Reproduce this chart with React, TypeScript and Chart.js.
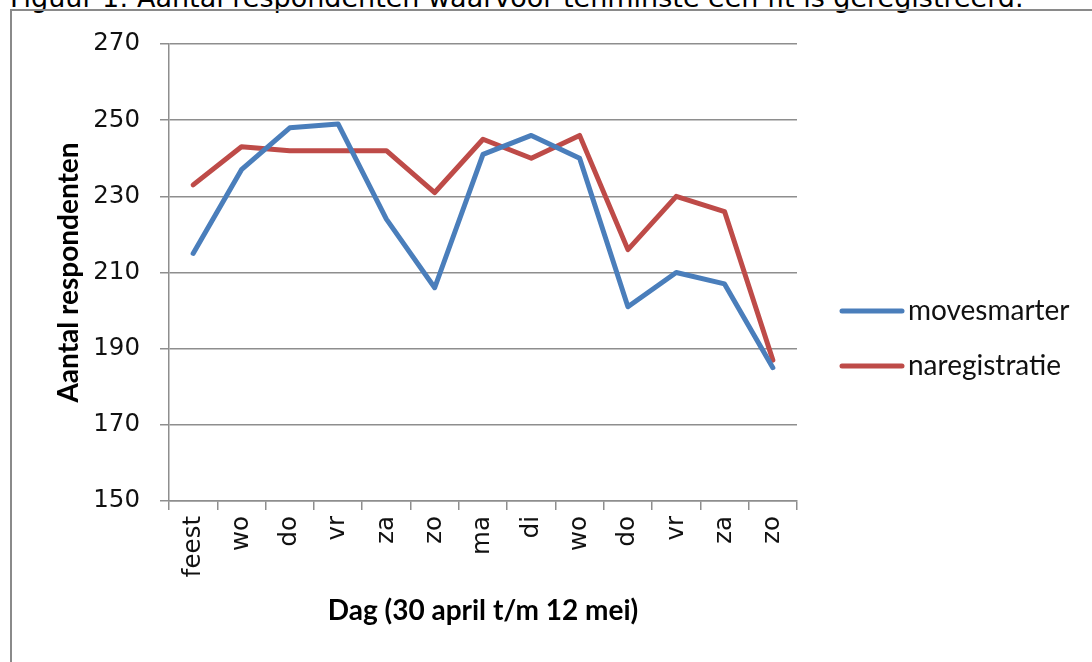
import React, { useEffect, useRef } from "react";
import { Chart, registerables } from "chart.js";

Chart.register(...registerables);

const CAPTION = "Figuur 1: Aantal respondenten waarvoor tenminste een fit is geregistreerd.";
const categories = ["feest", "wo", "do", "vr", "za", "zo", "ma", "di", "wo", "do", "vr", "za", "zo"];
const seriesNames = ["movesmarter", "naregistratie"];
const movesmarter = [215, 237, 248, 249, 224, 206, 241, 246, 240, 201, 210, 207, 185];
const naregistratie = [233, 243, 242, 242, 242, 231, 245, 240, 246, 216, 230, 226, 187];
const seriesColors = ["#4a7ebb", "#be4b48"];
const yMin = 150;
const yMax = 270;
const yStep = 20;
const xTitle = "Dag (30 april t/m 12 mei)";
const yTitle = "Aantal respondenten";

const GRID = "#8e8e8e";
const TICK_FONT = { family: "'DejaVu Sans'", size: 24.5 };

const legendPlugin = {
  id: "customLegend",
  afterDraw(chart: any) {
    const ctx = chart.ctx;
    const area = chart.chartArea;
    const x0 = area.right + 45;
    const y0 = area.top + 267;
    chart.data.datasets.forEach((ds: any, i: number) => {
      const y = y0 + i * 55;
      ctx.save();
      ctx.strokeStyle = ds.borderColor;
      ctx.lineWidth = 5;
      ctx.lineCap = "round";
      ctx.beginPath();
      ctx.moveTo(x0, y);
      ctx.lineTo(x0 + 60, y);
      ctx.stroke();
      ctx.fillStyle = "#111";
      ctx.font = "28px Lato";
      ctx.textBaseline = "middle";
      ctx.textAlign = "left";
      ctx.fillText(ds.label, x0 + 66, y);
      ctx.restore();
    });
  },
};

export default function App() {
  const ref = useRef<HTMLCanvasElement | null>(null);

  useEffect(() => {
    if (!ref.current) return;
    const chart = new Chart(ref.current, {
      type: "line",
      data: {
        labels: categories,
        datasets: [
          {
            label: seriesNames[0],
            data: movesmarter,
            borderColor: seriesColors[0],
            backgroundColor: seriesColors[0],
            borderWidth: 5,
            pointRadius: 0,
            tension: 0,
            borderJoinStyle: "round",
            borderCapStyle: "round",
          },
          {
            label: seriesNames[1],
            data: naregistratie,
            borderColor: seriesColors[1],
            backgroundColor: seriesColors[1],
            borderWidth: 5,
            pointRadius: 0,
            tension: 0,
            borderJoinStyle: "round",
            borderCapStyle: "round",
          },
        ],
      },
      options: {
        animation: false,
        responsive: false,
        devicePixelRatio: 1,
        layout: { padding: { top: 44, right: 295, left: 0, bottom: 0 } },
        plugins: {
          legend: { display: false },
          tooltip: { enabled: false },
          title: { display: false },
        },
        scales: {
          x: {
            offset: true,
            grid: {
              display: true,
              offset: true,
              drawOnChartArea: false,
              drawTicks: true,
              tickLength: 9,
              color: GRID,
              lineWidth: 1.5,
            },
            border: { display: true, color: GRID, width: 1.5 },
            ticks: {
              autoSkip: false,
              minRotation: 90,
              maxRotation: 90,
              padding: 6,
              color: "#111",
              font: TICK_FONT,
            },
            title: {
              display: true,
              text: xTitle,
              color: "#000",
              font: { family: "Lato", size: 28, weight: "bold" },
              padding: { top: 0, bottom: 34 },
            },
            afterFit(scale: any) {
              scale.height = 161;
            },
          },
          y: {
            min: yMin,
            max: yMax,
            grid: {
              color: GRID,
              lineWidth: 1.5,
              drawTicks: true,
              tickLength: 9,
            },
            border: { display: true, color: GRID, width: 1.5 },
            ticks: {
              stepSize: yStep,
              padding: 20,
              color: "#111",
              font: TICK_FONT,
            },
            title: {
              display: true,
              text: yTitle,
              color: "#000",
              font: { family: "Lato", size: 28, weight: "bold" },
              padding: { top: 52, bottom: 0 },
            },
            afterFit(scale: any) {
              scale.width = 169;
            },
          },
        },
      },
      plugins: [legendPlugin],
    });
    return () => chart.destroy();
  }, []);

  return (
    <div style={{ position: "fixed", left: 0, top: 0, width: 1092, height: 662, overflow: "hidden", background: "#fff" }}>
      <div
        style={{
          position: "absolute",
          left: 10,
          top: -16,
          fontFamily: "'DejaVu Sans'",
          fontSize: 27,
          lineHeight: "27px",
          whiteSpace: "nowrap",
          color: "#000",
        }}
      >
        {CAPTION}
      </div>
      <div
        style={{
          position: "absolute",
          left: 10,
          top: 9,
          width: 1200,
          height: 800,
          borderLeft: "2px solid #8a8a8a",
          borderTop: "2px solid #8a8a8a",
          pointerEvents: "none",
        }}
      />
      <canvas ref={ref} width={1092} height={662} style={{ position: "absolute", left: 0, top: 0, width: 1092, height: 662 }} />
    </div>
  );
}
